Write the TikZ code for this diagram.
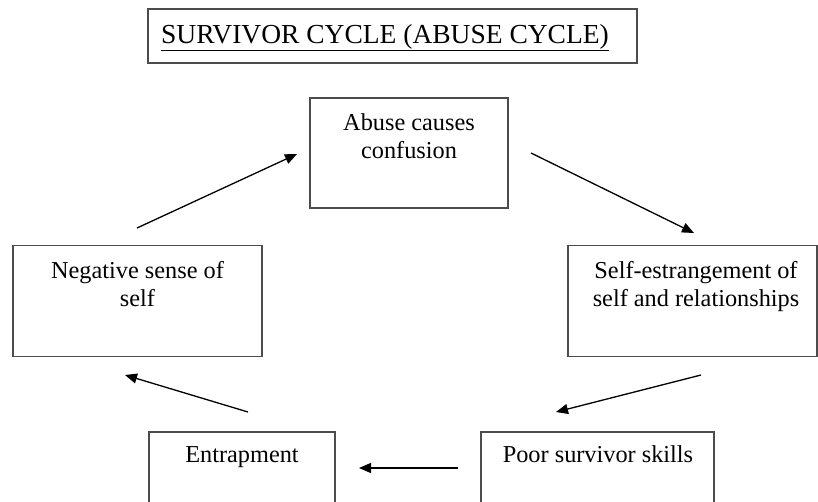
\documentclass[tikz,border=0pt]{standalone}
\usepackage{fontspec}
\setmainfont{Liberation Serif}
\usetikzlibrary{arrows.meta}
\begin{document}
\begin{tikzpicture}[x=1pt,y=-1pt,
  boxline/.style={draw=black!70, line width=1.1pt},
  txt/.style={anchor=base, inner sep=0pt, font=\fontsize{24.3}{28}\selectfont},
  arr/.style={line width=1.3pt, -{Triangle[length=12pt,width=10pt]}}]
\useasboundingbox (0,0) rectangle (818,501);
% boxes
\node[boxline, minimum width=489pt, minimum height=54pt, inner sep=0pt] (title) at (392.5,36) {};
\node[boxline, minimum width=198pt, minimum height=110pt, inner sep=0pt] (abuse) at (409,153) {};
\node[boxline, minimum width=249pt, minimum height=111pt, inner sep=0pt] (neg) at (137.5,301) {};
\node[boxline, minimum width=249pt, minimum height=111pt, inner sep=0pt] (self) at (692.5,301) {};
\node[boxline, minimum width=186pt, minimum height=90pt, inner sep=0pt] (entr) at (242,477) {};
\node[boxline, minimum width=233pt, minimum height=90pt, inner sep=0pt] (poor) at (597.5,477) {};
% texts
\node[anchor=base, inner sep=0pt, font=\fontsize{27.5}{30}\selectfont] (ttitle) at (385,43) {\underline{SURVIVOR CYCLE (ABUSE CYCLE)}};
\node[txt] (tabuse1) at (409,130) {Abuse causes};
\node[txt] (tabuse2) at (409,158) {confusion};
\node[txt] (tneg1) at (137.5,278) {Negative sense of};
\node[txt] (tneg2) at (137.5,306) {self};
\node[txt] (tself1) at (696,278) {Self-estrangement of};
\node[txt] (tself2) at (696,306) {self and relationships};
\node[txt] (tentr) at (242,462) {Entrapment};
\node[txt] (tpoor) at (598,462) {Poor survivor skills};
% arrow ends
\coordinate (a1s) at (137,228); \coordinate (a1e) at (297,154);
\coordinate (a2s) at (531,153); \coordinate (a2e) at (694,233);
\coordinate (a3s) at (701,375); \coordinate (a3e) at (556,412);
\coordinate (a4s) at (458,468); \coordinate (a4e) at (359,468);
\coordinate (a5s) at (248,412); \coordinate (a5e) at (125,375);
\draw[arr] (a1s) -- (a1e);
\draw[arr] (a2s) -- (a2e);
\draw[arr] (a3s) -- (a3e);
\draw[arr] (a4s) -- (a4e);
\draw[arr] (a5s) -- (a5e);
\end{tikzpicture}
\end{document}
